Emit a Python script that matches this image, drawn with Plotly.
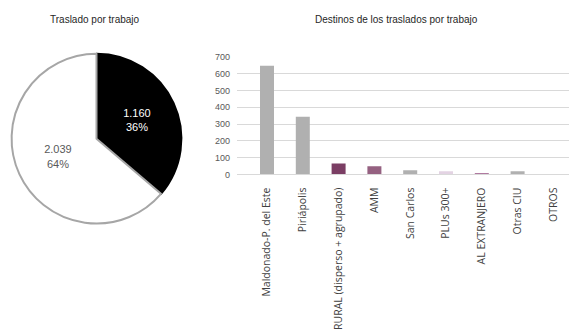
import plotly.graph_objects as go

# ─── Data ────────────────────────────────────────────────────────────────────
PIE_LABELS = ["Traslado por trabajo", "Sin traslado"]
PIE_VALUES = [1160, 2039]
PIE_COLORS = ["#000000", "#FFFFFF"]
PIE_LINES = ["#000000", "#A6A6A6"]
PIE_TEXT_COLORS = ["#FFFFFF", "#595959"]

DESTINOS = [
    "Maldonado-P. del Este", "Piriápolis", "RURAL (disperso + agrupado)", "AMM",
    "San Carlos", "PLUs 300+", "AL EXTRANJERO", "Otras CIU", "OTROS",
]
TRASLADOS = [648, 344, 65, 48, 24, 18, 3, 19, 0]
BAR_COLORS = [
    "#B0B0B0", "#B0B0B0", "#7B3E64", "#956181", "#B0B0B0",
    "#E3D3E3", "#B07AA0", "#B0B0B0", "#B0B0B0",
]

W, H = 577, 336
OFF = 8  # page body margin shifts the figure, compensate here


def px_x(v):
    return (v - OFF) / W


def px_y(v):
    return 1 - (v - OFF) / H


# category layout: first bar centre at 267px, step 35.8px, grid from 237 to 577
STEP = 35.8
X_RANGE = [(237 - 267) / STEP, (577 - 267) / STEP]

fig = go.Figure()

fig.add_trace(go.Pie(
    labels=PIE_LABELS, values=PIE_VALUES,
    sort=False, direction="clockwise", rotation=0,
    marker=dict(colors=PIE_COLORS, line=dict(color=PIE_LINES, width=2)),
    texttemplate="%{value:,.0f}<br>%{percent:.0%}",
    textposition="inside", insidetextorientation="horizontal",
    textfont=dict(size=11, color=PIE_TEXT_COLORS, family="Liberation Sans"),
    domain=dict(x=[px_x(9), px_x(184)], y=[px_y(225), px_y(50)]),
    showlegend=False, hoverinfo="label+value+percent",
))

fig.add_trace(go.Bar(
    x=DESTINOS, y=TRASLADOS,
    marker=dict(color=BAR_COLORS, line=dict(width=0)),
    width=14 / STEP, showlegend=False,
    xaxis="x", yaxis="y",
))

fig.update_layout(
    width=W, height=H,
    margin=dict(l=0, r=0, t=0, b=0),
    paper_bgcolor="white", plot_bgcolor="white",
    separators=",.",
    font=dict(family="Liberation Sans, Arial, sans-serif", color="#404040"),
    xaxis=dict(
        domain=[px_x(237), px_x(577)], anchor="y", range=X_RANGE,
        tickangle=-90, showgrid=False, ticks="", ticklabelstandoff=8,
        showline=True, linecolor="#D9D9D9", linewidth=1,
        tickfont=dict(family="Open Sans", size=10.5, color="#404040"),
    ),
    yaxis=dict(
        domain=[px_y(174.3), px_y(53.3)], anchor="x",
        range=[0, 700], dtick=100, showgrid=True, gridcolor="#D9D9D9",
        gridwidth=1, zeroline=False, ticks="", ticklabelstandoff=6,
        tickfont=dict(size=9, color="#595959"),
    ),
    annotations=[
        dict(text="Traslado por trabajo", x=px_x(95), y=px_y(15),
             xref="paper", yref="paper", showarrow=False,
             xanchor="center", yanchor="middle",
             font=dict(size=10, color="#262626")),
        dict(text="Destinos de los traslados por trabajo", x=px_x(396), y=px_y(15),
             xref="paper", yref="paper", showarrow=False,
             xanchor="center", yanchor="middle",
             font=dict(size=10, color="#262626")),
    ],
)

fig.write_html("out.html")
